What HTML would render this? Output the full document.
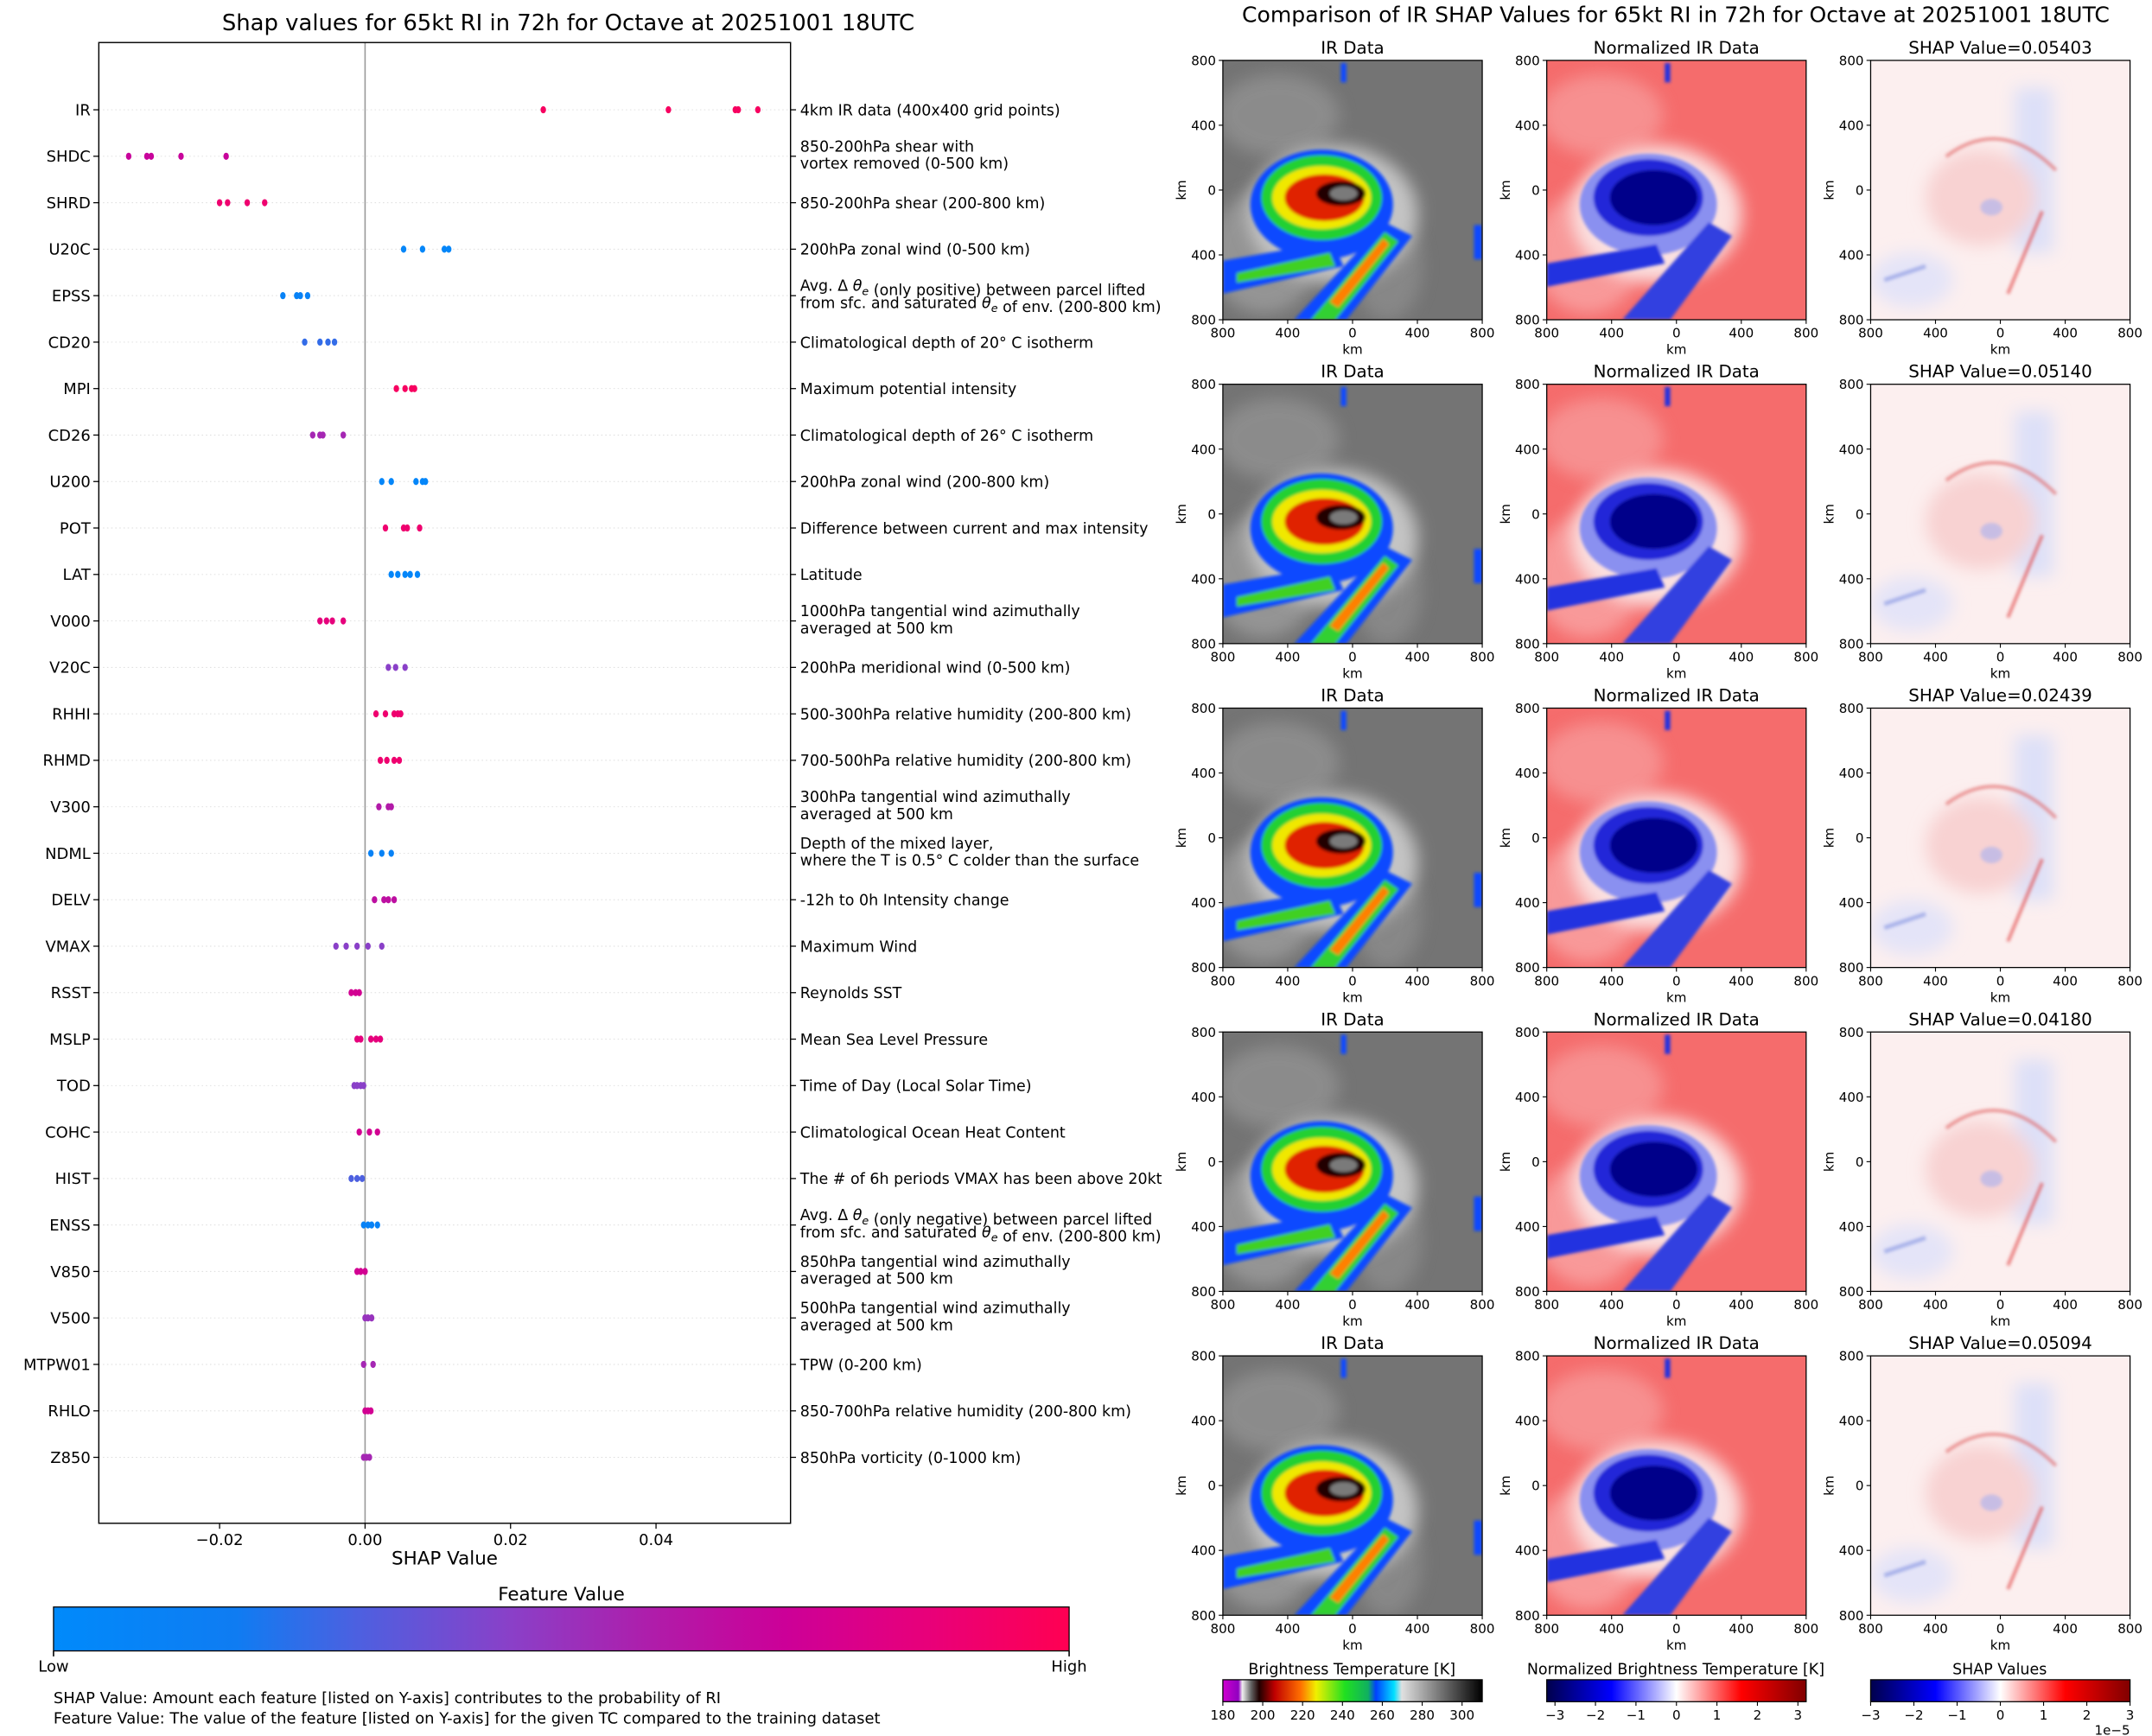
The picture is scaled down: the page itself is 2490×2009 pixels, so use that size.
<!DOCTYPE html>
<html><head><meta charset="utf-8"><title>SHAP values for Octave</title>
<style>
html,body{margin:0;padding:0;background:#fff;}
svg{display:block;font-family:"DejaVu Sans","Liberation Sans",sans-serif;}
</style></head>
<body>
<svg id="fig" width="2490" height="2009" viewBox="0 0 1568 1265" preserveAspectRatio="none" xmlns="http://www.w3.org/2000/svg">
<defs>
  <filter id="b1" x="-20%" y="-20%" width="140%" height="140%"><feGaussianBlur stdDeviation="1.2"/></filter>
  <filter id="b3" x="-30%" y="-30%" width="160%" height="160%"><feGaussianBlur stdDeviation="3"/></filter>
  <filter id="b6" x="-40%" y="-40%" width="180%" height="180%"><feGaussianBlur stdDeviation="6"/></filter>
  <linearGradient id="fvg" x1="0" x2="1" y1="0" y2="0">
    <stop offset="0" stop-color="#008afb"/><stop offset="0.18" stop-color="#0f7cf2"/>
    <stop offset="0.3" stop-color="#4d60e0"/><stop offset="0.45" stop-color="#8a40c8"/>
    <stop offset="0.6" stop-color="#b21aa8"/><stop offset="0.72" stop-color="#cc0098"/>
    <stop offset="0.86" stop-color="#e8007a"/><stop offset="1" stop-color="#ff0052"/>
  </linearGradient>
  <linearGradient id="btg" x1="0" x2="1">
    <stop offset="0" stop-color="#d000d0"/><stop offset="0.06" stop-color="#9000c0"/>
    <stop offset="0.075" stop-color="#f0f0f0"/><stop offset="0.11" stop-color="#606060"/>
    <stop offset="0.14" stop-color="#200000"/><stop offset="0.2" stop-color="#c00000"/>
    <stop offset="0.3" stop-color="#ff7000"/><stop offset="0.36" stop-color="#f0f000"/>
    <stop offset="0.47" stop-color="#20e020"/><stop offset="0.56" stop-color="#10b060"/>
    <stop offset="0.59" stop-color="#0040ff"/><stop offset="0.66" stop-color="#00e0ff"/>
    <stop offset="0.69" stop-color="#e0e0e0"/><stop offset="1" stop-color="#000"/>
  </linearGradient>
  <linearGradient id="swg" x1="0" x2="1">
    <stop offset="0" stop-color="#00004c"/><stop offset="0.25" stop-color="#0000ff"/>
    <stop offset="0.5" stop-color="#ffffff"/><stop offset="0.75" stop-color="#ff0000"/>
    <stop offset="1" stop-color="#800000"/>
  </linearGradient>
  <symbol id="irimg" viewBox="0 0 189 189">
    <rect width="189" height="189" fill="#747474"/>
    <g filter="url(#b6)" opacity="0.6">
      <ellipse cx="40" cy="40" rx="45" ry="30" fill="#9c9c9c"/>
      <ellipse cx="30" cy="140" rx="40" ry="45" fill="#aaaaaa"/>
      <ellipse cx="120" cy="150" rx="25" ry="40" fill="#949494"/>
    </g>
    <ellipse cx="80" cy="112" rx="62" ry="50" fill="#c4c4c4" filter="url(#b6)"/>
    <g filter="url(#b1)">
      <ellipse cx="72" cy="105" rx="52" ry="40" fill="#1048ff"/>
      <polygon points="118,118 138,128 90,189 52,189" fill="#1048ff"/>
      <polygon points="0,146 80,132 88,150 0,170" fill="#1048ff"/>
      <ellipse cx="72" cy="100" rx="44" ry="31" fill="#20d030"/>
      <polygon points="118,125 128,132 82,189 64,189" fill="#30d030"/>
      <polygon points="10,155 78,140 82,150 10,162" fill="#40d020"/>
      <ellipse cx="72" cy="100" rx="36" ry="23" fill="#f0e800"/>
      <polygon points="117,130 121,134 84,180 78,176" fill="#ff8000"/>
      <ellipse cx="74" cy="100" rx="29" ry="17" fill="#e02000"/>
      <ellipse cx="86" cy="97" rx="18" ry="9" fill="#200000"/>
      <ellipse cx="88" cy="97" rx="10" ry="5" fill="#7a7a7a"/>
      <rect x="86" y="2" width="4" height="14" fill="#1048ff"/>
      <rect x="183" y="120" width="6" height="25" fill="#1048ff"/>
    </g>
  </symbol>
  <symbol id="nimg" viewBox="0 0 189 189">
    <rect width="189" height="189" fill="#f56c6c"/>
    <g filter="url(#b6)" opacity="0.6">
      <ellipse cx="40" cy="40" rx="45" ry="30" fill="#f8a8a8"/>
      <ellipse cx="30" cy="140" rx="40" ry="45" fill="#fbb8b8"/>
    </g>
    <ellipse cx="80" cy="112" rx="62" ry="50" fill="#fbe0e0" filter="url(#b6)"/>
    <g filter="url(#b1)">
      <ellipse cx="74" cy="105" rx="50" ry="37" fill="#8a90f0"/>
      <polygon points="118,118 135,128 90,189 55,189" fill="#3040e0"/>
      <polygon points="0,148 80,134 86,148 0,165" fill="#2030e0"/>
      <ellipse cx="74" cy="100" rx="40" ry="28" fill="#2028d8"/>
      <ellipse cx="78" cy="100" rx="32" ry="20" fill="#00008a"/>
      <rect x="86" y="2" width="4" height="14" fill="#2030e0"/>
    </g>
  </symbol>
  <symbol id="simg" viewBox="0 0 189 189">
    <rect width="189" height="189" fill="#fcefef"/>
    <g filter="url(#b6)">
      <rect x="105" y="20" width="28" height="120" fill="#dde0f8"/>
      <ellipse cx="30" cy="160" rx="30" ry="20" fill="#e4e4f8"/>
      <ellipse cx="80" cy="100" rx="40" ry="35" fill="#f8d2d2"/>
    </g>
    <g filter="url(#b1)" opacity="0.6">
      <path d="M55,70 Q95,40 135,80" stroke="#e06060" stroke-width="2.5" fill="none"/>
      <path d="M125,110 L100,170" stroke="#e04040" stroke-width="2.5" fill="none"/>
      <ellipse cx="88" cy="107" rx="8" ry="6" fill="#a8b0f0"/>
      <path d="M10,160 L40,150" stroke="#8090e0" stroke-width="3"/>
    </g>
  </symbol>
</defs>

<text x="414" y="22" font-size="16.3" text-anchor="middle">Shap values for 65kt RI in 72h for Octave at 20251001 18UTC</text>
<g id="grid"></g>
<line x1="266" y1="31" x2="266" y2="1110" stroke="#999" stroke-width="1"/>
<g id="dots"></g>
<rect x="72" y="31" width="504" height="1079" fill="none" stroke="#000" stroke-width="0.9"/>
<g id="ylab" font-size="11.3"></g>
<g id="rlab" font-size="11"></g>
<g id="xt" font-size="11.3"></g>
<text x="324" y="1140" font-size="13.5" text-anchor="middle">SHAP Value</text>

<text x="409" y="1166" font-size="13.5" text-anchor="middle">Feature Value</text>
<rect x="39" y="1171" width="740" height="32" fill="url(#fvg)" stroke="#000" stroke-width="0.8"/>
<line x1="39" y1="1203" x2="39" y2="1207" stroke="#000"/><line x1="779" y1="1203" x2="779" y2="1207" stroke="#000"/>
<text x="39" y="1218" font-size="11.3" text-anchor="middle">Low</text>
<text x="779" y="1218" font-size="11.3" text-anchor="middle">High</text>
<text x="39" y="1241" font-size="11.3">SHAP Value: Amount each feature [listed on Y-axis] contributes to the probability of RI</text>
<text x="39" y="1256" font-size="11.3">Feature Value: The value of the feature [listed on Y-axis] for the given TC compared to the training dataset</text>

<text x="1221" y="16" font-size="15.8" text-anchor="middle">Comparison of IR SHAP Values for 65kt RI in 72h for Octave at 20251001 18UTC</text>
<g id="panels" font-size="9.5"></g>

<g font-size="9.5">
  <text x="985" y="1220" font-size="11" text-anchor="middle">Brightness Temperature [K]</text>
  <rect x="891" y="1224" width="189" height="16" fill="url(#btg)" stroke="#000" stroke-width="0.8"/>
  <text x="1221" y="1220" font-size="11" text-anchor="middle">Normalized Brightness Temperature [K]</text>
  <rect x="1127" y="1224" width="189" height="16" fill="url(#swg)" stroke="#000" stroke-width="0.8"/>
  <text x="1457" y="1220" font-size="11" text-anchor="middle">SHAP Values</text>
  <rect x="1363" y="1224" width="189" height="16" fill="url(#swg)" stroke="#000" stroke-width="0.8"/>
  <g id="cbt"></g>
  <text x="1552" y="1264" text-anchor="end">1e−5</text>
</g>
</svg>
<script>
const features = ["IR","SHDC","SHRD","U20C","EPSS","CD20","MPI","CD26","U200","POT","LAT","V000","V20C","RHHI","RHMD","V300","NDML","DELV","VMAX","RSST","MSLP","TOD","COHC","HIST","ENSS","V850","V500","MTPW01","RHLO","Z850"];
const descriptions = [
 ["4km IR data (400x400 grid points)"],
 ["850-200hPa shear with","vortex removed (0-500 km)"],
 ["850-200hPa shear (200-800 km)"],
 ["200hPa zonal wind (0-500 km)"],
 ["Avg. Δ θe (only positive) between parcel lifted","from sfc. and saturated θe of env. (200-800 km)"],
 ["Climatological depth of 20° C isotherm"],
 ["Maximum potential intensity"],
 ["Climatological depth of 26° C isotherm"],
 ["200hPa zonal wind (200-800 km)"],
 ["Difference between current and max intensity"],
 ["Latitude"],
 ["1000hPa tangential wind azimuthally","averaged at 500 km"],
 ["200hPa meridional wind (0-500 km)"],
 ["500-300hPa relative humidity (200-800 km)"],
 ["700-500hPa relative humidity (200-800 km)"],
 ["300hPa tangential wind azimuthally","averaged at 500 km"],
 ["Depth of the mixed layer,","where the T is 0.5° C colder than the surface"],
 ["-12h to 0h Intensity change"],
 ["Maximum Wind"],
 ["Reynolds SST"],
 ["Mean Sea Level Pressure"],
 ["Time of Day (Local Solar Time)"],
 ["Climatological Ocean Heat Content"],
 ["The # of 6h periods VMAX has been above 20kt"],
 ["Avg. Δ θe (only negative) between parcel lifted","from sfc. and saturated θe of env. (200-800 km)"],
 ["850hPa tangential wind azimuthally","averaged at 500 km"],
 ["500hPa tangential wind azimuthally","averaged at 500 km"],
 ["TPW (0-200 km)"],
 ["850-700hPa relative humidity (200-800 km)"],
 ["850hPa vorticity (0-1000 km)"]
];
const shapValues = [
 [0.0245,0.0417,0.0509,0.0513,0.0540],
 [-0.0325,-0.0300,-0.0294,-0.0253,-0.0191],
 [-0.0200,-0.0189,-0.0162,-0.0138],
 [0.0053,0.0079,0.0109,0.0115],
 [-0.0113,-0.0094,-0.0089,-0.0079],
 [-0.0083,-0.0062,-0.0051,-0.0042],
 [0.0043,0.0055,0.0064,0.0068],
 [-0.0072,-0.0062,-0.0058,-0.0030],
 [0.0023,0.0036,0.0070,0.0079,0.0083],
 [0.0028,0.0053,0.0058,0.0075],
 [0.0036,0.0045,0.0055,0.0062,0.0072],
 [-0.0062,-0.0053,-0.0045,-0.0030],
 [0.0032,0.0042,0.0055],
 [0.0015,0.0028,0.0040,0.0045,0.0049],
 [0.0021,0.0030,0.0040,0.0047],
 [0.0019,0.0032,0.0036],
 [0.0008,0.0023,0.0036],
 [0.0013,0.0026,0.0032,0.0040],
 [-0.0040,-0.0026,-0.0011,0.0004,0.0023],
 [-0.0019,-0.0013,-0.0008],
 [-0.0011,-0.0006,0.0008,0.0015,0.0021],
 [-0.0015,-0.0011,-0.0006,-0.0002],
 [-0.0008,0.0006,0.0017],
 [-0.0019,-0.0011,-0.0004],
 [-0.0002,0.0004,0.0009,0.0017],
 [-0.0011,-0.0006,0.0000],
 [0.0000,0.0004,0.0009],
 [-0.0002,0.0011],
 [0.0000,0.0004,0.0008],
 [-0.0002,0.0002,0.0006]
];
const featureLevels = [0.95,0.7,0.9,0.05,0.1,0.25,0.95,0.55,0.05,0.9,0.05,0.85,0.45,0.9,0.9,0.6,0.1,0.65,0.45,0.75,0.85,0.45,0.75,0.3,0.1,0.75,0.5,0.55,0.75,0.55];
const xTicks = [-0.02,0,0.02,0.04];
const xTickLabels = ["−0.02","0.00","0.02","0.04"];

const NS = "http://www.w3.org/2000/svg";
function mk(tag, attrs, parent){const e=document.createElementNS(NS,tag);for(const k in attrs)e.setAttribute(k,attrs[k]);parent.appendChild(e);return e;}
const xScale = v => 266 + v*5300;
const yScale = i => 80 + i*33.86;
const stops=[[0,[0,138,251]],[0.18,[15,124,242]],[0.3,[77,96,224]],[0.45,[138,64,200]],[0.6,[178,26,168]],[0.72,[204,0,152]],[0.86,[232,0,122]],[1,[255,0,82]]];
function cmap(t){for(let i=1;i<stops.length;i++){if(t<=stops[i][0]){const a=stops[i-1],b=stops[i],f=(t-a[0])/(b[0]-a[0]);return "rgb("+a[1].map((c,j)=>Math.round(c+(b[1][j]-c)*f)).join(",")+")";}}return "rgb(255,0,82)";}

const grid=document.getElementById('grid'),dots=document.getElementById('dots'),ylab=document.getElementById('ylab'),rlab=document.getElementById('rlab'),xt=document.getElementById('xt');
function addTheta(t, str){
  const parts=str.split("θe");
  parts.forEach((p,i)=>{const s=mk('tspan',{},t);s.textContent=p;
    if(i<parts.length-1){const th=mk('tspan',{'font-style':'italic'},t);th.textContent="θ";const sub=mk('tspan',{'font-style':'italic','font-size':'8','dy':'3'},t);sub.textContent="e";mk('tspan',{'dy':'-3'},t);}
  });
}
features.forEach((f,i)=>{
  const y=yScale(i);
  const g=mk('line',{x1:72,x2:576,y1:y,y2:y,stroke:'#ddd','stroke-width':0.6,'stroke-dasharray':'1,2'},grid);
  
  
  mk('line',{x1:68,x2:72,y1:y,y2:y,stroke:'#000','stroke-width':0.8},ylab);
  const t=mk('text',{x:66,y:y+4,'text-anchor':'end'},ylab);t.textContent=f;
  
  
  mk('line',{x1:576,x2:580,y1:y,y2:y,stroke:'#000','stroke-width':0.8},rlab);
  const d=descriptions[i];
  d.forEach((line,j)=>{
    const yy = d.length===1 ? y+4 : y-3.5+j*12.5;
    const tt=mk('text',{x:583,y:yy},rlab);
    addTheta(tt,line);
    
    
  });
  shapValues[i].forEach((v,k)=>{
    const c=mk('ellipse',{cx:xScale(v),cy:y,rx:2,ry:2.6,fill:cmap(featureLevels[i])},dots);
    
    
  });
});
xTicks.forEach((v,i)=>{
  const x=xScale(v);
  mk('line',{x1:x,x2:x,y1:1110,y2:1114,stroke:'#000','stroke-width':0.8},xt);
  const t=mk('text',{x:x,y:1126,'text-anchor':'middle'},xt);t.textContent=xTickLabels[i];
  
  
});

const panelTitles=["IR Data","Normalized IR Data"];
const shapTitles=["SHAP Value=0.05403","SHAP Value=0.05140","SHAP Value=0.02439","SHAP Value=0.04180","SHAP Value=0.05094"];
const kmTicks=["800","400","0","400","800"];
const colX=[891,1127,1363], rowY=[44,280,516,752,988], S=189;
const panels=document.getElementById('panels');
const syms=["#irimg","#nimg","#simg"];
rowY.forEach((py,r)=>{
  colX.forEach((px,c)=>{
    const g=mk('g',{},panels);
    
    
    mk('use',{href:syms[c],x:px,y:py,width:S,height:S},g);
    mk('rect',{x:px,y:py,width:S,height:S,fill:'none',stroke:'#000','stroke-width':0.8},g);
    const tt=mk('text',{x:px+S/2,y:py-5,'text-anchor':'middle','font-size':'12.5'},g);
    tt.textContent = c<2 ? panelTitles[c] : shapTitles[r];
    kmTicks.forEach((lab,k)=>{
      const yy=py+k*S/4, xx=px+k*S/4;
      mk('line',{x1:px-3,x2:px,y1:yy,y2:yy,stroke:'#000','stroke-width':0.7},g);
      const a=mk('text',{x:px-5,y:yy+3.5,'text-anchor':'end'},g);a.textContent=lab;
      mk('line',{x1:xx,x2:xx,y1:py+S,y2:py+S+3,stroke:'#000','stroke-width':0.7},g);
      const b=mk('text',{x:xx,y:py+S+13,'text-anchor':'middle'},g);b.textContent=lab;
    });
    const kx=mk('text',{x:px+S/2,y:py+S+25,'text-anchor':'middle'},g);kx.textContent="km";
    const ky=mk('text',{x:px-27,y:py+S/2,'text-anchor':'middle',transform:'rotate(-90 '+(px-27)+' '+(py+S/2)+')'},g);ky.textContent="km";
  });
});
const btTicks=[180,200,220,240,260,280,300];
const symTicks=[-3,-2,-1,0,1,2,3];
const cbt=document.getElementById('cbt');
btTicks.forEach(v=>{const x=891+(v-180)*1.4525;mk('line',{x1:x,x2:x,y1:1240,y2:1243,stroke:'#000','stroke-width':0.7},cbt);const t=mk('text',{x:x,y:1253,'text-anchor':'middle'},cbt);t.textContent=v;});
symTicks.forEach(v=>{
  let x=1221.5+v*29.5;mk('line',{x1:x,x2:x,y1:1240,y2:1243,stroke:'#000','stroke-width':0.7},cbt);let t=mk('text',{x:x,y:1253,'text-anchor':'middle'},cbt);t.textContent=(v<0?'−':'')+Math.abs(v);
  x=1457.5+v*31.5;mk('line',{x1:x,x2:x,y1:1240,y2:1243,stroke:'#000','stroke-width':0.7},cbt);t=mk('text',{x:x,y:1253,'text-anchor':'middle'},cbt);t.textContent=(v<0?'−':'')+Math.abs(v);
});
</script>
</body></html>
